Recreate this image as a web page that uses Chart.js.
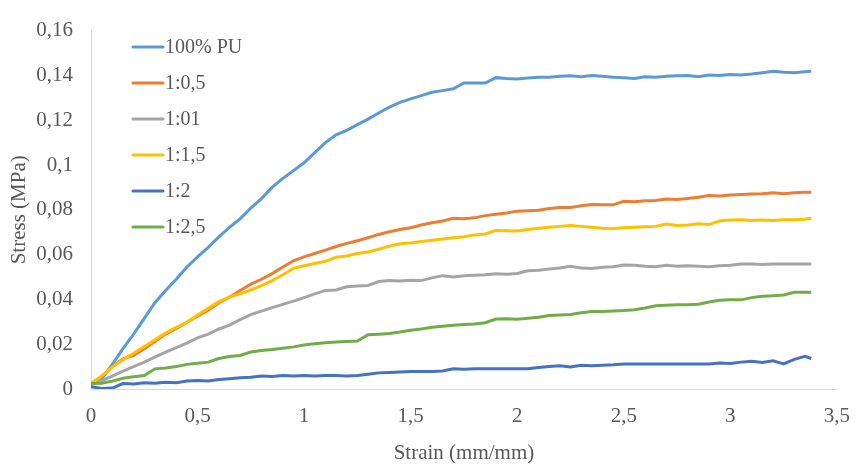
<!DOCTYPE html>
<html>
<head>
  <title>Stress - Strain</title>
  <script src="https://cdn.jsdelivr.net/npm/chart.js"></script>
  <style>
    body { margin: 0; background: #fff; }
    #wrap { width: 865px; height: 467px; }
  </style>
</head>
<body>
  <div id="wrap">
    <canvas id="stressChart" width="865" height="467"></canvas>
  </div>

  <script>
    // Strain (mm/mm) sample points shared by every curve
    const strain = [
      0, 0.05, 0.10, 0.15, 0.20, 0.25, 0.30, 0.35, 0.40, 0.45,
      0.50, 0.55, 0.60, 0.65, 0.70, 0.75, 0.80, 0.85, 0.90, 0.95,
      1.00, 1.05, 1.10, 1.15, 1.20, 1.25, 1.30, 1.35, 1.40, 1.45,
      1.50, 1.55, 1.60, 1.65, 1.70, 1.75, 1.80, 1.85, 1.90, 1.95,
      2.00, 2.05, 2.10, 2.15, 2.20, 2.25, 2.30, 2.35, 2.40, 2.45,
      2.50, 2.55, 2.60, 2.65, 2.70, 2.75, 2.80, 2.85, 2.90, 2.95,
      3.00, 3.05, 3.10, 3.15, 3.20, 3.25, 3.30, 3.35, 3.38
    ];

    // Stress (MPa) per sample
    const pu100 = [
      0.0020, 0.0045, 0.0110, 0.0180, 0.0245, 0.0315, 0.0385, 0.0440, 0.0490, 0.0545,
      0.0590, 0.0632, 0.0679, 0.0722, 0.0760, 0.0808, 0.0850, 0.0900, 0.0940, 0.0975,
      0.1010, 0.1055, 0.1100, 0.1135, 0.1155, 0.1180, 0.1205, 0.1232, 0.1258, 0.1280,
      0.1295, 0.1310, 0.1325, 0.1332, 0.1340, 0.1366, 0.1366, 0.1366, 0.1390, 0.1386,
      0.1384, 0.1388, 0.1392, 0.1392, 0.1396, 0.1398, 0.1394, 0.1400, 0.1396, 0.1392,
      0.1390, 0.1386, 0.1394, 0.1392, 0.1396, 0.1398, 0.1400, 0.1394, 0.1402, 0.1400,
      0.1404, 0.1402, 0.1406, 0.1412, 0.1418, 0.1414, 0.1412, 0.1416, 0.1418
    ];
    const r1_05 = [
      0.0025, 0.0055, 0.0100, 0.0135, 0.0150, 0.0180, 0.0212, 0.0245, 0.0270, 0.0298,
      0.0325, 0.0352, 0.0385, 0.0410, 0.0440, 0.0468, 0.0490, 0.0515, 0.0545, 0.0572,
      0.0590, 0.0605, 0.0620, 0.0636, 0.0650, 0.0662, 0.0675, 0.0690, 0.0702, 0.0712,
      0.0720, 0.0732, 0.0742, 0.0750, 0.0762, 0.0760, 0.0764, 0.0774, 0.0780, 0.0786,
      0.0794, 0.0796, 0.0798, 0.0806, 0.0810, 0.0810, 0.0818, 0.0824, 0.0822, 0.0822,
      0.0838, 0.0836, 0.0840, 0.0842, 0.0848, 0.0846, 0.0850, 0.0856, 0.0864, 0.0862,
      0.0866, 0.0868, 0.0870, 0.0872, 0.0876, 0.0872, 0.0876, 0.0878, 0.0878
    ];
    const r1_01 = [
      0.0020, 0.0038, 0.0058, 0.0080, 0.0100, 0.0120, 0.0142, 0.0165, 0.0185, 0.0205,
      0.0228, 0.0245, 0.0268, 0.0285, 0.0310, 0.0332, 0.0348, 0.0363, 0.0378, 0.0392,
      0.0408, 0.0425, 0.0440, 0.0442, 0.0456, 0.0460, 0.0462, 0.0480, 0.0484, 0.0482,
      0.0486, 0.0484, 0.0496, 0.0506, 0.0500, 0.0506, 0.0508, 0.0510, 0.0514, 0.0512,
      0.0516, 0.0528, 0.0530, 0.0536, 0.0540, 0.0548, 0.0540, 0.0538, 0.0544, 0.0546,
      0.0554, 0.0552, 0.0548, 0.0546, 0.0552, 0.0548, 0.0550, 0.0548, 0.0546, 0.0550,
      0.0552, 0.0558, 0.0558, 0.0556, 0.0558, 0.0558, 0.0558, 0.0558, 0.0558
    ];
    const r1_15 = [
      0.0025, 0.0058, 0.0098, 0.0130, 0.0160, 0.0190, 0.0220, 0.0250, 0.0275, 0.0298,
      0.0330, 0.0360, 0.0390, 0.0410, 0.0425, 0.0442, 0.0462, 0.0484, 0.0510, 0.0538,
      0.0550, 0.0560, 0.0570, 0.0588, 0.0594, 0.0605, 0.0612, 0.0624, 0.0638, 0.0648,
      0.0652, 0.0658, 0.0664, 0.0670, 0.0675, 0.0680, 0.0688, 0.0692, 0.0708, 0.0706,
      0.0705, 0.0712, 0.0718, 0.0722, 0.0726, 0.0730, 0.0726, 0.0722, 0.0718, 0.0716,
      0.0720, 0.0722, 0.0724, 0.0726, 0.0736, 0.0730, 0.0732, 0.0738, 0.0734, 0.0750,
      0.0754, 0.0756, 0.0752, 0.0754, 0.0752, 0.0756, 0.0756, 0.0758, 0.0762
    ];
    const r1_2 = [
      0.0010, 0.0002, 0.0004, 0.0024, 0.0022, 0.0028, 0.0026, 0.0030, 0.0028, 0.0036,
      0.0038, 0.0036, 0.0042, 0.0046, 0.0050, 0.0052, 0.0058, 0.0056, 0.0060, 0.0058,
      0.0060, 0.0058, 0.0060, 0.0060, 0.0058, 0.0060, 0.0066, 0.0072, 0.0074, 0.0076,
      0.0078, 0.0078, 0.0078, 0.0080, 0.0090, 0.0088, 0.0090, 0.0090, 0.0090, 0.0090,
      0.0090, 0.0090, 0.0096, 0.0100, 0.0104, 0.0098, 0.0106, 0.0104, 0.0106, 0.0108,
      0.0112, 0.0112, 0.0112, 0.0112, 0.0112, 0.0112, 0.0112, 0.0112, 0.0112, 0.0116,
      0.0114, 0.0120, 0.0124, 0.0118, 0.0126, 0.0112, 0.0132, 0.0146, 0.0136
    ];
    const r1_25 = [
      0.0025, 0.0026, 0.0035, 0.0048, 0.0055, 0.0060, 0.0090, 0.0094, 0.0100, 0.0110,
      0.0115, 0.0120, 0.0136, 0.0145, 0.0150, 0.0165, 0.0172, 0.0176, 0.0182, 0.0188,
      0.0196, 0.0202, 0.0206, 0.0210, 0.0212, 0.0214, 0.0242, 0.0244, 0.0248, 0.0254,
      0.0262, 0.0268, 0.0276, 0.0280, 0.0285, 0.0288, 0.0290, 0.0296, 0.0312, 0.0314,
      0.0311, 0.0316, 0.0320, 0.0328, 0.0330, 0.0333, 0.0340, 0.0346, 0.0346, 0.0348,
      0.0350, 0.0354, 0.0362, 0.0372, 0.0374, 0.0376, 0.0376, 0.0378, 0.0388, 0.0396,
      0.0398, 0.0398, 0.0408, 0.0414, 0.0416, 0.0420, 0.0432, 0.0432, 0.0432
    ];

    const seriesNames = ['100% PU', '1:0,5', '1:01', '1:1,5', '1:2', '1:2,5'];
    const seriesColors = ['#5B9BD5', '#ED7D31', '#A5A5A5', '#FFC000', '#4472C4', '#70AD47'];
    const seriesValues = [pu100, r1_05, r1_01, r1_15, r1_2, r1_25];

    // Tick labels
    const xTicks = [0, 0.5, 1, 1.5, 2, 2.5, 3, 3.5];
    const yTicks = [0, 0.02, 0.04, 0.06, 0.08, 0.1, 0.12, 0.14, 0.16];

    const FONT = "'Liberation Serif', 'Times New Roman', serif";
    const TXT = '#595959';
    const comma = (v) => String(Number(v.toFixed(3))).replace('.', ',');

    // Legend drawn inside the plot, top left
    const insideLegend = {
      id: 'insideLegend',
      afterDraw(chart) {
        const ctx = chart.ctx;
        ctx.save();
        ctx.font = '20px ' + FONT;
        ctx.textBaseline = 'middle';
        ctx.textAlign = 'left';
        chart.data.datasets.forEach((ds, i) => {
          const y = 47 + i * 36;
          ctx.strokeStyle = ds.borderColor;
          ctx.lineWidth = 3;
          ctx.lineCap = 'round';
          ctx.beginPath();
          ctx.moveTo(133, y);
          ctx.lineTo(163, y);
          ctx.stroke();
          ctx.fillStyle = TXT;
          ctx.fillText(ds.label, 165, y + 1);
        });
        ctx.restore();
      }
    };

    const datasets = seriesNames.map((name, i) => ({
      label: name,
      data: strain.map((x, j) => ({ x: x, y: seriesValues[i][j] })),
      borderColor: seriesColors[i],
      backgroundColor: seriesColors[i],
      borderWidth: 3,
      pointRadius: 0,
      tension: 0,
      order: seriesNames.length - i
    }));

    new Chart(document.getElementById('stressChart'), {
      type: 'line',
      data: { datasets: datasets },
      plugins: [insideLegend],
      options: {
        responsive: false,
        animation: false,
        layout: { padding: { top: 19, right: 18, left: 0, bottom: 0 } },
        plugins: { legend: { display: false }, tooltip: { enabled: false } },
        scales: {
          x: {
            type: 'linear',
            min: 0,
            max: 3.5,
            afterBuildTicks: (s) => { s.ticks = xTicks.map(v => ({ value: v })); },
            afterFit: (s) => { s.height = 78; },
            grid: { display: false, drawTicks: false },
            border: { display: true, color: '#D9D9D9', width: 1 },
            ticks: {
              color: TXT,
              font: { family: FONT, size: 21 },
              padding: 15,
              maxRotation: 0,
              callback: (v) => comma(v)
            },
            title: {
              display: true,
              text: 'Strain (mm/mm)',
              color: TXT,
              font: { family: FONT, size: 21 },
              padding: { top: 0, bottom: 1 }
            }
          },
          y: {
            min: 0,
            max: 0.16,
            afterBuildTicks: (s) => { s.ticks = yTicks.map(v => ({ value: v })); },
            afterFit: (s) => { s.width = 91; },
            grid: { display: false, drawTicks: false },
            border: { display: true, color: '#D9D9D9', width: 1 },
            ticks: {
              color: TXT,
              font: { family: FONT, size: 21 },
              padding: 18,
              callback: (v) => comma(v)
            },
            title: {
              display: true,
              text: 'Stress (MPa)',
              color: TXT,
              font: { family: FONT, size: 21 },
              padding: { top: 7, bottom: 0 }
            }
          }
        }
      }
    });
  </script>
</body>
</html>
